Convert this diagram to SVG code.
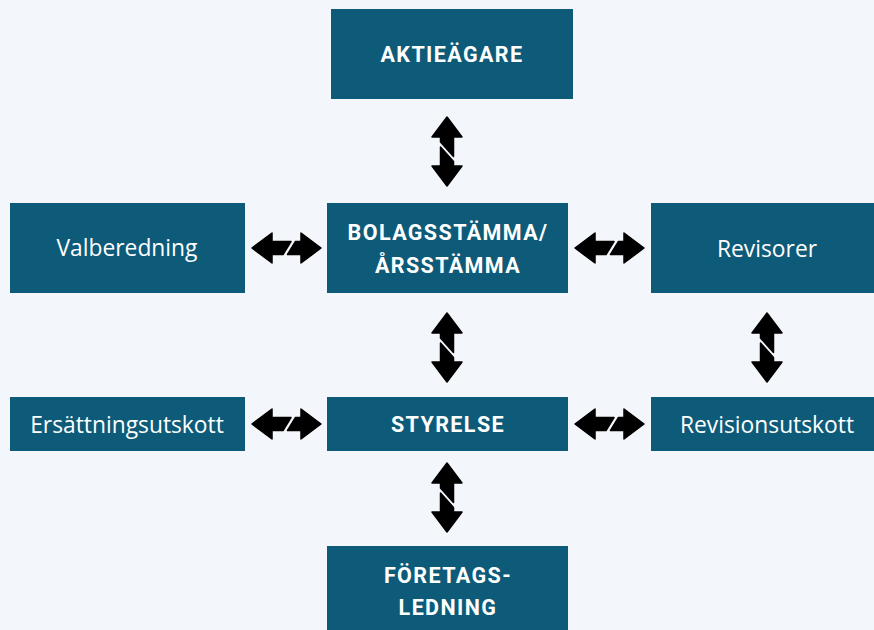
<svg xmlns="http://www.w3.org/2000/svg" width="874" height="630" viewBox="0 0 874 630">
<defs>
<style>
.box{fill:#0d5b79}
.b{font-family:Roboto,"Liberation Sans",sans-serif;font-weight:700;font-size:21.5px;fill:#fff;text-anchor:middle;letter-spacing:1.4px}
.r{font-family:"Open Sans","Liberation Sans",sans-serif;font-size:22.8px;fill:#fff;text-anchor:middle}
.ar{fill:#000;stroke:#000;stroke-width:1.5;stroke-linejoin:round}
</style>
<g id="av">
<path class="ar" d="M0,0 L15,20 L6.5,20 L6.5,39.5 L-6.5,25 L-6.5,20 L-15,20 Z"/>
<path class="ar" d="M-6.5,30 L6.5,44.5 L6.5,49 L15,49 L0,69 L-15,49 L-6.5,49 Z"/>
</g>
<g id="ah">
<path class="ar" d="M0,0 L20,-15 L20,-6.5 L39,-6.5 L31,6.5 L20,6.5 L20,15 Z"/>
<path class="ar" d="M69,0 L49,-15 L49,-6.5 L43.5,-6.5 L35.5,6.5 L49,6.5 L49,15 Z"/>
</g>
</defs>
<rect width="874" height="630" fill="#f3f6fa"/>
<g id="n-aktieagare"><rect class="box" x="331" y="9" width="242" height="90"/><text class="b" x="452" y="62">AKTIEÄGARE</text></g>
<g id="n-valberedning"><rect class="box" x="10" y="203" width="235" height="90"/><text class="r" x="127" y="256">Valberedning</text></g>
<g id="n-bolagsstamma"><rect class="box" x="327" y="203" width="241" height="90"/><text class="b" x="448" y="240">BOLAGSSTÄMMA/</text><text class="b" x="448" y="273">ÅRSSTÄMMA</text></g>
<g id="n-revisorer"><rect class="box" x="651" y="203" width="223" height="90"/><text class="r" x="767" y="257">Revisorer</text></g>
<g id="n-ersattningsutskott"><rect class="box" x="10" y="397" width="235" height="54"/><text class="r" x="127" y="433">Ersättningsutskott</text></g>
<g id="n-styrelse"><rect class="box" x="327" y="397" width="241" height="54"/><text class="b" x="448" y="432">STYRELSE</text></g>
<g id="n-revisionsutskott"><rect class="box" x="651" y="397" width="223" height="54"/><text class="r" x="767" y="433">Revisionsutskott</text></g>
<g id="n-foretagsledning"><rect class="box" x="327" y="546" width="241" height="84"/><text class="b" x="448" y="583">FÖRETAGS-</text><text class="b" x="448" y="615">LEDNING</text></g>
<g id="connectors">
<use href="#av" x="447" y="117"/>
<use href="#av" x="447" y="313"/>
<use href="#av" x="767" y="313"/>
<use href="#av" x="447" y="463"/>
<use href="#ah" x="252" y="248"/>
<use href="#ah" x="575" y="248"/>
<use href="#ah" x="252" y="424"/>
<use href="#ah" x="575" y="424"/>
</g>
</svg>
